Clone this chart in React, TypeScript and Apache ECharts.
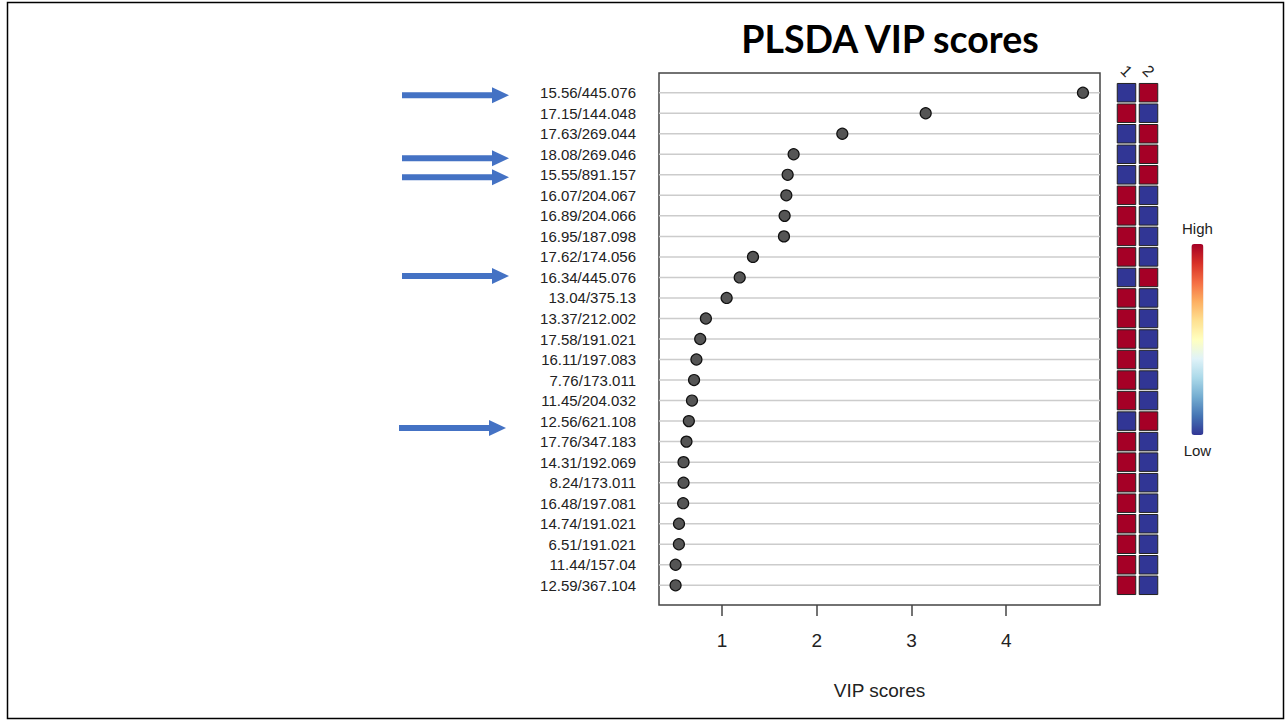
import React, { useEffect, useRef } from "react";
import * as echarts from "echarts";

// Feature labels, top row first
const features: string[] = [
  "15.56/445.076", "17.15/144.048", "17.63/269.044", "18.08/269.046", "15.55/891.157",
  "16.07/204.067", "16.89/204.066", "16.95/187.098", "17.62/174.056", "16.34/445.076",
  "13.04/375.13", "13.37/212.002", "17.58/191.021", "16.11/197.083", "7.76/173.011",
  "11.45/204.032", "12.56/621.108", "17.76/347.183", "14.31/192.069", "8.24/173.011",
  "16.48/197.081", "14.74/191.021", "6.51/191.021", "11.44/157.04", "12.59/367.104",
];

// VIP scores, top row first
const vipScores: number[] = [
  4.81, 3.15, 2.27, 1.756, 1.693, 1.679, 1.661, 1.654, 1.327, 1.187,
  1.049, 0.83, 0.77, 0.73, 0.705, 0.683, 0.65, 0.625, 0.594, 0.594,
  0.59, 0.546, 0.545, 0.51, 0.51,
];

// Relative concentration in group 1 (1 = high, 0 = low); group 2 is the opposite
const group1High: number[] = [
  0, 1, 0, 0, 0, 1, 1, 1, 1, 0, 1, 1, 1, 1, 1, 1, 0, 1, 1, 1, 1, 1, 1, 1, 1,
];
const groupLabels: string[] = ["1", "2"];
const xTicks: number[] = [1, 2, 3, 4];
const legendText: string[] = ["High", "Low"];

const X_MIN = 0.335;
const X_MAX = 4.99;
const Y_MIN = 0.04;
const Y_MAX = 25.96;

const N = features.length;
const rowY = (i: number) => N - i;

export default function App() {
  const ref = useRef<HTMLDivElement>(null);

  useEffect(() => {
    document.body.style.margin = "0";
    if (!ref.current) return;
    const chart = echarts.init(ref.current, null, { renderer: "svg" });

    const scatterData = vipScores.map((v, i) => [v, rowY(i)]);
    const gridLineData = features.map((_, i) => [X_MIN, rowY(i)]);
    const heatData: number[][] = [];
    group1High.forEach((h, i) => {
      heatData.push([0, rowY(i), h]);
      heatData.push([1, rowY(i), 1 - h]);
    });

    const arrowShape = (x1: number, x2: number, yc: number) => {
      const headL = 17;
      const shaftH = 3;
      const headH = 8;
      return [
        [x1, yc - shaftH],
        [x2 - headL, yc - shaftH],
        [x2 - headL, yc - headH],
        [x2, yc],
        [x2 - headL, yc + headH],
        [x2 - headL, yc + shaftH],
        [x1, yc + shaftH],
      ];
    };
    const arrows = [
      [402, 509, 95.3],
      [402, 509, 158.3],
      [402, 509, 177.3],
      [402, 509, 276],
      [399, 506, 428],
    ];

    chart.setOption({
      animation: false,
      backgroundColor: "#ffffff",
      textStyle: { fontFamily: "Liberation Sans, Arial, sans-serif" },
      grid: [
        {
          left: 659, top: 73, width: 441, height: 532,
          show: true, borderColor: "#444", borderWidth: 1.5, backgroundColor: "transparent",
        },
        { left: 1115.5, top: 73, width: 44, height: 532, show: false },
      ],
      xAxis: [
        {
          gridIndex: 0, type: "value", min: X_MIN, max: X_MAX,
          name: "VIP scores", nameLocation: "middle", nameGap: 76,
          nameTextStyle: { fontSize: 19, color: "#222", fontFamily: "Liberation Sans" },
          axisLine: { show: false },
          splitLine: { show: false },
          axisTick: { show: true, customValues: xTicks, length: 11, lineStyle: { color: "#444", width: 1.5 } },
          axisLabel: { customValues: xTicks, margin: 26, fontSize: 19, color: "#222", fontFamily: "Liberation Sans" },
        },
        {
          gridIndex: 1, type: "category", data: groupLabels, position: "top",
          axisLine: { show: false }, axisTick: { show: false }, splitLine: { show: false },
          axisLabel: {
            rotate: 45, margin: 2, fontSize: 16, color: "#222", fontFamily: "Liberation Sans",
            align: "center", verticalAlign: "middle",
          },
        },
      ],
      yAxis: [
        {
          gridIndex: 0, type: "value", min: Y_MIN, max: Y_MAX,
          axisLine: { show: false }, axisTick: { show: false }, splitLine: { show: false },
          axisLabel: {
            customValues: features.map((_, i) => rowY(i)),
            formatter: (v: number) => features[N - Math.round(v)] ?? "",
            margin: 23, fontSize: 15, color: "#222", fontFamily: "Liberation Sans",
          },
        },
        {
          gridIndex: 1, type: "value", min: Y_MIN, max: Y_MAX, show: false,
          axisLine: { show: false }, axisTick: { show: false }, splitLine: { show: false }, axisLabel: { show: false },
        },
      ],
      visualMap: {
        type: "continuous", min: 0, max: 1, seriesIndex: 2, dimension: 2,
        orient: "vertical", left: 1167, top: 206, itemWidth: 12, itemHeight: 191,
        text: legendText, textGap: 8, calculable: false, hoverLink: false,
        textStyle: { fontSize: 15, color: "#222", fontFamily: "Liberation Sans" },
        inRange: {
          color: ["#313695", "#4575b4", "#74add1", "#abd9e9", "#e0f3f8", "#ffffbf",
            "#fee090", "#fdae61", "#f46d43", "#d73027", "#a50026"],
        },
      },
      series: [
        {
          type: "custom", xAxisIndex: 0, yAxisIndex: 0, z: 1, silent: true,
          data: gridLineData,
          renderItem: (params: any, api: any) => {
            const y = api.value(1);
            const p1 = api.coord([X_MIN, y]);
            const p2 = api.coord([X_MAX, y]);
            return {
              type: "line",
              shape: { x1: p1[0], y1: p1[1], x2: p2[0], y2: p2[1] },
              style: { stroke: "#cccccc", lineWidth: 1.5 },
            };
          },
        },
        {
          type: "scatter", xAxisIndex: 0, yAxisIndex: 0, z: 3,
          data: scatterData, symbol: "circle", symbolSize: 11,
          itemStyle: { color: "#555555", borderColor: "#111", borderWidth: 1.2, opacity: 1 },
        },
        {
          type: "custom", xAxisIndex: 1, yAxisIndex: 1, z: 2,
          data: heatData,
          renderItem: (params: any, api: any) => {
            const c = api.coord([api.value(0), api.value(1)]);
            const w = 18.5;
            const h = 18.5;
            return {
              type: "rect",
              shape: { x: c[0] - w / 2, y: c[1] - h / 2, width: w, height: h },
              style: { fill: api.visual("color"), stroke: "#222", lineWidth: 1 },
            };
          },
        },
      ],
      graphic: [
        {
          type: "text", x: 890, y: 38,
          style: {
            text: "PLSDA VIP scores", fontSize: 37.5, fontWeight: "bold",
            fontFamily: "Lato", fill: "#000", textAlign: "center", textVerticalAlign: "middle",
          },
        },
        {
          type: "rect", shape: { x: 7.5, y: 2.5, width: 1276, height: 716 },
          style: { fill: "none", stroke: "#000", lineWidth: 1.5 }, silent: true,
        },
        ...arrows.map((a) => ({
          type: "polygon",
          shape: { points: arrowShape(a[0], a[1], a[2]) },
          style: { fill: "#4472C4" },
        })),
      ],
    });

    return () => chart.dispose();
  }, []);

  return <div ref={ref} style={{ width: 1286, height: 721 }} />;
}
